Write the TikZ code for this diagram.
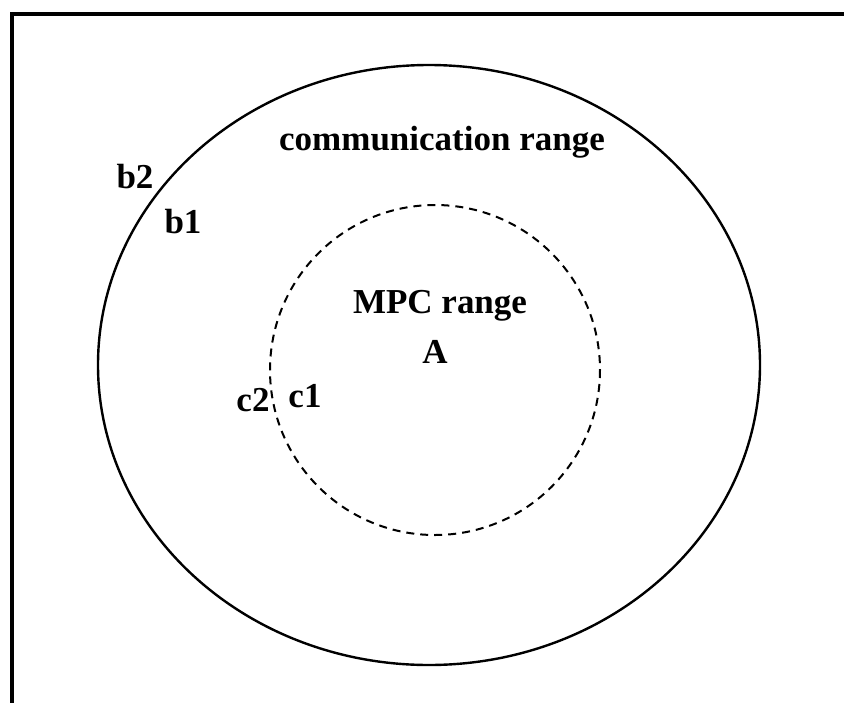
\documentclass[tikz,border=0pt]{standalone}
\usepackage{fontspec}
\setmainfont{Liberation Serif}
\usetikzlibrary{positioning}

\begin{document}
\begin{tikzpicture}[
  x=1pt, y=-1pt,
  lbl/.style={
    font=\fontsize{35}{42}\selectfont\bfseries, text=black, inner sep=0pt,
  },
  frameline/.style={line width=3.5pt, line cap=rect},
  commrange/.style={line width=2.4pt},
  mpcrange/.style={line width=2pt, dash pattern=on 8pt off 6pt},
]
  \useasboundingbox (0,0) rectangle (844,702);

  % Frame (top and left edges)
  \draw[frameline] (844,14) -- (12,14) -- (12,702);

  % Ranges
  \draw[commrange] (429,365) ellipse [x radius=331, y radius=300];
  \draw[mpcrange] (435,370) circle [radius=165];

  % Labels
  \node[lbl] (comm) at (442,142) {communication range};
  \node[lbl] (mpc) at (440,306) {MPC range};
  \node[lbl] (nodeA) at (435,352) {A};
  \node[lbl] (b2) at (135,177) {b2};
  \node[lbl] (b1) at (183,222) {b1};
  \node[lbl] (c2) at (253,400) {c2};
  \node[lbl] (c1) at (305,396) {c1};
\end{tikzpicture}
\end{document}
